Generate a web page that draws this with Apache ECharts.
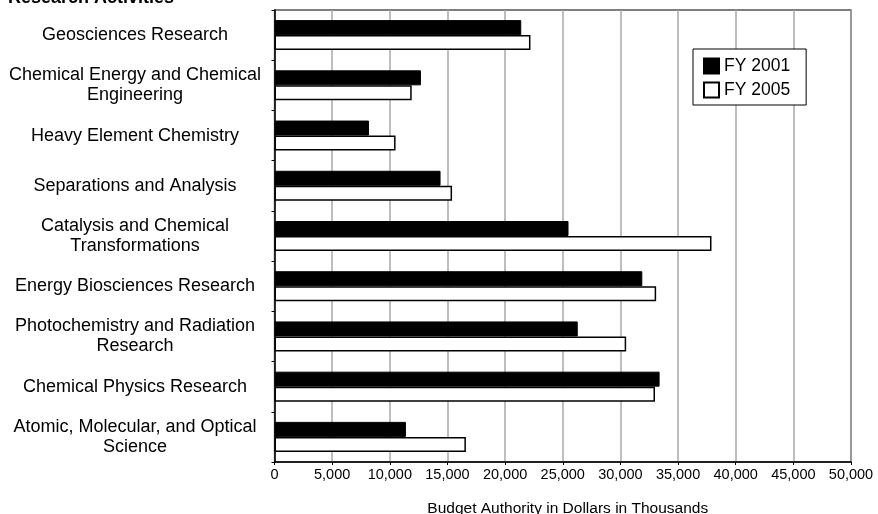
<!DOCTYPE html>
<html>
<head>
<meta charset="utf-8">
<script src="https://cdn.jsdelivr.net/npm/echarts@6/dist/echarts.min.js"></script>
<style>
html,body{margin:0;padding:0;background:#fff;}
#chart{width:878px;height:514px;}
</style>
</head>
<body>
<div id="chart"></div>
<script>
const categories = [
  'Geosciences Research',
  'Chemical Energy and Chemical\nEngineering',
  'Heavy Element Chemistry',
  'Separations and Analysis',
  'Catalysis and Chemical\nTransformations',
  'Energy Biosciences Research',
  'Photochemistry and Radiation\nResearch',
  'Chemical Physics Research',
  'Atomic, Molecular, and Optical\nScience'
];
const fy2001 = [21400, 12700, 8200, 14400, 25500, 31900, 26300, 33400, 11400];
const fy2005 = [22200, 11900, 10500, 15400, 37900, 33100, 30500, 33000, 16600];
const seriesNames = ['FY 2001', 'FY 2005'];
const xTitle = 'Budget Authority in Dollars in Thousands';
const yTitle = 'Research Activities';

const FONT = '"Liberation Sans", Arial, Helvetica, sans-serif';
const chart = echarts.init(document.getElementById('chart'), null, {renderer: 'canvas'});
chart.setOption({
  animation: false,
  backgroundColor: '#fff',
  textStyle: {fontFamily: FONT, color: '#000'},
  title: {
    text: yTitle,
    left: 8,
    top: -11,
    padding: 0,
    textStyle: {fontFamily: FONT, fontSize: 18, fontWeight: 'bold', color: '#000'}
  },
  legend: {
    orient: 'vertical',
    left: 693,
    top: 49,
    padding: [8, 16, 6, 10],
    itemWidth: 15,
    itemHeight: 15,
    itemGap: 6,
    backgroundColor: '#fff',
    borderColor: '#000',
    borderWidth: 1,
    borderRadius: 0,
    icon: 'rect',
    textStyle: {fontFamily: FONT, fontSize: 17.5, color: '#000'},
    data: seriesNames
  },
  grid: {
    left: 274.5, right: 27, top: 10, bottom: 52,
    containLabel: false,
    outerBoundsMode: 'none',
    show: true, borderColor: '#000', borderWidth: 1.2, backgroundColor: 'transparent'
  },
  xAxis: {
    type: 'value',
    min: 0, max: 50000, interval: 5000,
    name: xTitle,
    nameLocation: 'middle',
    nameGap: 39,
    nameTextStyle: {fontFamily: FONT, fontSize: 15.5, color: '#000', padding: [0, 0, 0, 10]},
    axisLine: {show: true, lineStyle: {color: '#000', width: 1.5}},
    axisTick: {show: true, length: 3, lineStyle: {color: '#000', width: 1}},
    axisLabel: {
      fontFamily: FONT, fontSize: 14.5, color: '#000', margin: 5,
      formatter: v => v.toLocaleString('en-US')
    },
    splitLine: {show: true, lineStyle: {color: '#a8a8a8', width: 1.5}}
  },
  yAxis: {
    type: 'category',
    inverse: true,
    data: categories,
    axisLine: {show: true, lineStyle: {color: '#000', width: 1.5}},
    axisTick: {show: true, length: 3, lineStyle: {color: '#000', width: 1}},
    axisLabel: {
      fontFamily: FONT, fontSize: 18, color: '#000', margin: 139.5,
      align: 'center', lineHeight: 20, padding: [5, 0, 0, 0]
    },
    splitLine: {show: false}
  },
  series: [
    {
      name: seriesNames[0], type: 'bar', data: fy2001,
      barWidth: 15, barGap: '0%',
      itemStyle: {color: '#000', borderColor: '#000', borderWidth: 1}
    },
    {
      name: seriesNames[1], type: 'bar', data: fy2005,
      barWidth: 15, barGap: '0%',
      itemStyle: {color: '#fff', borderColor: '#000', borderWidth: 1.5}
    }
  ]
});
</script>
</body>
</html>
